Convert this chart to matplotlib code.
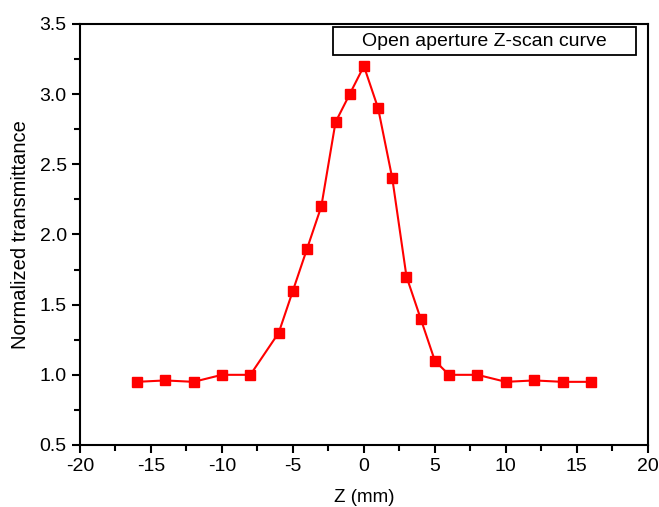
import matplotlib.pyplot as plt
from matplotlib.patches import Rectangle
from matplotlib.ticker import MultipleLocator, FormatStrFormatter

plt.rcParams['font.family'] = ['Liberation Sans', 'DejaVu Sans']
plt.rcParams['axes.unicode_minus'] = False

# open aperture z-scan measurement
z_mm = [-16, -14, -12, -10, -8, -6, -5, -4, -3, -2, -1, 0,
        1, 2, 3, 4, 5, 6, 8, 10, 12, 14, 16]
transmittance = [0.95, 0.96, 0.95, 1.0, 1.0, 1.3, 1.6, 1.9, 2.2, 2.8, 3.0, 3.2,
                 2.9, 2.4, 1.7, 1.4, 1.1, 1.0, 1.0, 0.95, 0.96, 0.95, 0.95]

fig = plt.figure(figsize=(6.59, 5.07), dpi=100)
ax = fig.add_axes([0.1214, 0.1223, 0.8616, 0.8304])

ax.plot(z_mm, transmittance, color='#ff0000', lw=1.5, marker='s', ms=7,
        markeredgecolor='#ff0000')

ax.set_xlim(-20, 20)
ax.set_ylim(0.5, 3.5)
ax.xaxis.set_major_locator(MultipleLocator(5))
ax.xaxis.set_minor_locator(MultipleLocator(2.5))
ax.yaxis.set_major_locator(MultipleLocator(0.5))
ax.yaxis.set_minor_locator(MultipleLocator(0.25))
ax.yaxis.set_major_formatter(FormatStrFormatter('%.1f'))
ax.tick_params(which='both', direction='out', width=1.5, labelsize=14,
               top=False, right=False)
ax.tick_params(which='major', length=6)
ax.tick_params(which='minor', length=4)
for s in ax.spines.values():
    s.set_linewidth(1.5)

ax.set_xlabel('Z (mm)', fontsize=13.5, labelpad=10)
ax.set_ylabel('Normalized transmittance', fontsize=14.5, labelpad=7)

# boxed caption in the top right corner
ax.add_patch(Rectangle((0.4454, 0.926), 0.5335, 0.067, transform=ax.transAxes,
                       fc='white', ec='black', lw=1.3, zorder=3))
ax.text(0.712, 0.9595, 'Open aperture Z-scan curve', transform=ax.transAxes,
        fontsize=14, ha='center', va='center', zorder=4)

fig.savefig('out.png', dpi=100)
